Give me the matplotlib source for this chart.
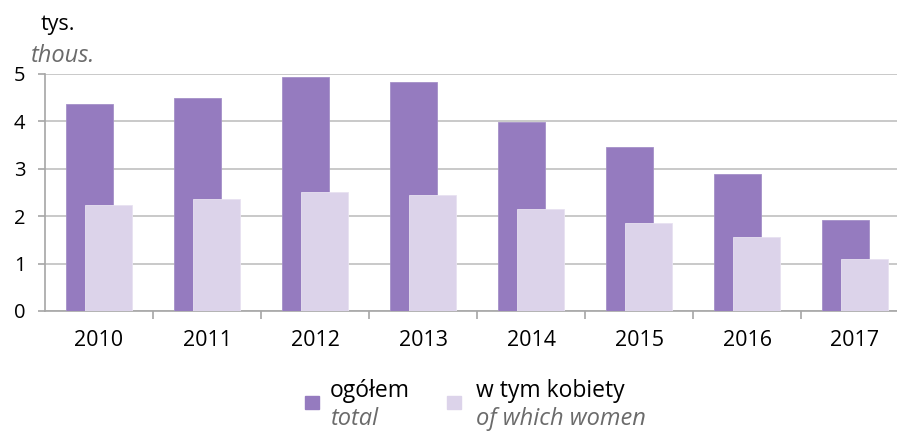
import numpy as np
import matplotlib.pyplot as plt
from matplotlib.patches import Rectangle

years = ["2010", "2011", "2012", "2013", "2014", "2015", "2016", "2017"]
total = [4.37, 4.49, 4.94, 4.83, 3.99, 3.47, 2.88, 1.92]
women = [2.24, 2.36, 2.50, 2.45, 2.15, 1.85, 1.57, 1.09]
yticks = [0, 1, 2, 3, 4, 5]

c_total = "#957bbf"
c_women = "#dcd3ea"
grid_c = "#c0c0c0"
axis_c = "#a6a6a6"
grey_txt = "#6b6b6b"

plt.rcParams['font.family'] = ['Open Sans', 'DejaVu Sans']

W, H = 897, 433
fig = plt.figure(figsize=(W / 100, H / 100), dpi=100)
x0, x1, y0, y1 = 45, 909, 311, 74
ax = fig.add_axes([x0 / W, (H - y0) / H, (x1 - x0) / W, (y0 - y1) / H])

x = np.arange(len(years))
w = 0.432
ax.bar(x - 0.088, total, width=w, color=c_total, edgecolor="#a590c8",
       linewidth=0.6, zorder=3)
ax.bar(x + 0.088, women, width=w, color=c_women, edgecolor="#e8e2f1",
       linewidth=0.6, zorder=4)

ax.set_xlim(-0.5, len(years) - 0.5)
ax.set_ylim(0, 5)
ax.set_yticks(yticks)
ax.set_yticklabels([str(v) for v in yticks], fontsize=14.5)
ax.yaxis.grid(True, color=grid_c, linewidth=1.2, zorder=0)
ax.set_axisbelow(True)

ax.set_xticks(x)
ax.set_xticklabels(years, fontsize=15.5)
ax.set_xticks(np.arange(len(years)) + 0.5, minor=True)
ax.tick_params(axis="x", which="major", length=0, pad=14)
ax.tick_params(axis="x", which="minor", length=6, color=axis_c, width=1.2)
ax.tick_params(axis="y", length=5, color=axis_c, width=1.2, pad=9)

for s in ["top", "right"]:
    ax.spines[s].set_visible(False)
for s in ["left", "bottom"]:
    ax.spines[s].set_color(axis_c)
    ax.spines[s].set_linewidth(1.2)

fig.text(41 / W, 1 - 30 / H, "tys.", fontsize=15.5, va="baseline", ha="left")
fig.text(31 / W, 1 - 62 / H, "thous.", fontsize=17, style="italic",
         color=grey_txt, va="baseline", ha="left")

# legend
fig.patches.append(Rectangle((305 / W, 1 - 409 / H), 14 / W, 13 / H,
                             transform=fig.transFigure, color=c_total))
fig.text(330 / W, 1 - 397 / H, "ogółem", fontsize=16.5, va="baseline")
fig.text(331 / W, 1 - 425 / H, "total", fontsize=17, style="italic",
         color=grey_txt, va="baseline")
fig.patches.append(Rectangle((447 / W, 1 - 409 / H), 14 / W, 13 / H,
                             transform=fig.transFigure, color=c_women))
fig.text(476 / W, 1 - 397 / H, "w tym kobiety", fontsize=16.5, va="baseline")
fig.text(476 / W, 1 - 425 / H, "of which women", fontsize=17,
         style="italic", color=grey_txt, va="baseline")

plt.savefig("out.png", dpi=100)
